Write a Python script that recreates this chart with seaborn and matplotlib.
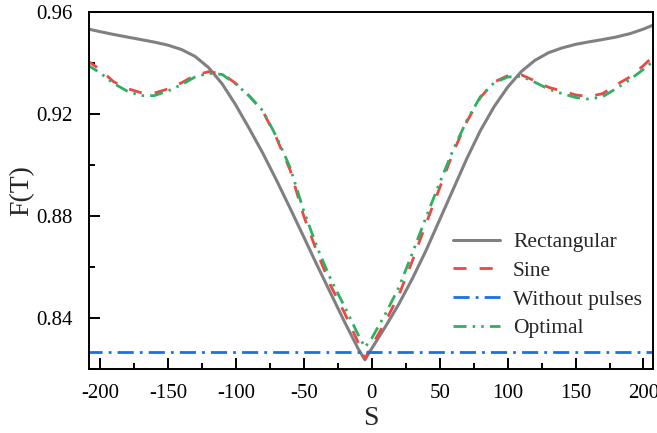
import numpy as np
import pandas as pd
import matplotlib
matplotlib.use("Agg")
import matplotlib.pyplot as plt
import seaborn as sns
from matplotlib.ticker import MultipleLocator

# values
S = [-210, -200, -190, -180, -170, -160, -150, -140, -130, -120, -110, -100,
     -90, -80, -70, -60, -50, -40, -30, -20, -10, -5, 0, 10, 20, 30, 40, 50,
     60, 70, 80, 90, 100, 110, 120, 130, 140, 150, 160, 170, 180, 190, 200, 210]

rectangular = [0.9535, 0.9523, 0.9512, 0.9502, 0.9492, 0.9482, 0.9470, 0.9453,
               0.9426, 0.9382, 0.9318, 0.9235, 0.9142, 0.9045, 0.8940, 0.8830,
               0.8718, 0.8605, 0.8495, 0.8385, 0.8280, 0.8236, 0.8280, 0.8365,
               0.8455, 0.8555, 0.8665, 0.8785, 0.8905, 0.9025, 0.9135, 0.9228,
               0.9305, 0.9366, 0.9410, 0.9440, 0.9459, 0.9473, 0.9483, 0.9492,
               0.9502, 0.9515, 0.9533, 0.9555]

sine = [0.9412, 0.9375, 0.9327, 0.9300, 0.9284, 0.9282, 0.9298, 0.9322,
        0.9352, 0.9366, 0.9358, 0.9320, 0.9270, 0.9210, 0.9105, 0.8980,
        0.8800, 0.8655, 0.8525, 0.8420, 0.8305, 0.8240, 0.8290, 0.8385,
        0.8490, 0.8625, 0.8770, 0.8910, 0.9050, 0.9170, 0.9265, 0.9325,
        0.9350, 0.9354, 0.9330, 0.9305, 0.9290, 0.9275, 0.9268, 0.9280,
        0.9315, 0.9345, 0.9390, 0.9440]

optimal = [0.9395, 0.9362, 0.9320, 0.9290, 0.9272, 0.9272, 0.9290, 0.9315,
           0.9345, 0.9360, 0.9355, 0.9318, 0.9270, 0.9212, 0.9110, 0.8990,
           0.8820, 0.8675, 0.8550, 0.8445, 0.8335, 0.8285, 0.8320, 0.8415,
           0.8520, 0.8655, 0.8795, 0.8930, 0.9060, 0.9175, 0.9268, 0.9322,
           0.9345, 0.9348, 0.9325, 0.9298, 0.9280, 0.9265, 0.9258, 0.9268,
           0.9300, 0.9335, 0.9375, 0.9420]

without_pulses = [0.8265] * len(S)

df = pd.DataFrame({"S": S, "Rectangular": rectangular, "Sine": sine,
                   "Without pulses": without_pulses, "Optimal": optimal})

sns.set_style("ticks")
plt.rcParams["font.family"] = ["Liberation Serif", "DejaVu Serif"]
plt.rcParams["axes.unicode_minus"] = False

fig = plt.figure(figsize=(6.57, 4.33), dpi=100)
ax = fig.add_axes([0.1355, 0.1478, 0.8584, 0.8245])

sns.lineplot(data=df, x="S", y="Rectangular", ax=ax, color="#808080", lw=2.2,
             label="Rectangular")
sns.lineplot(data=df, x="S", y="Sine", ax=ax, color="#f04545", lw=2.0,
             linestyle=(0, (4.7, 4.7)), label="Sine")
sns.lineplot(data=df, x="S", y="Without pulses", ax=ax, color="#1a70e6", lw=2.0,
             linestyle=(0, (5.8, 2.2, 1.0, 2.2)), label="Without pulses")
sns.lineplot(data=df, x="S", y="Optimal", ax=ax, color="#2eb062", lw=2.0,
             linestyle=(0, (4.7, 2.2, 0.9, 2.2, 0.9, 2.2)), label="Optimal")

ax.set_xlim(-208, 207)
ax.set_ylim(0.82, 0.96)
ax.xaxis.set_major_locator(MultipleLocator(50))
ax.xaxis.set_minor_locator(MultipleLocator(25))
ax.yaxis.set_minor_locator(MultipleLocator(0.02))
ax.set_yticks([0.84, 0.88, 0.92, 0.96])
ax.set_yticklabels(["0.84", "0.88", "0.92", "0.96"])

ax.tick_params(which="both", direction="in", width=1.4, colors="black",
               labelsize=15)
ax.tick_params(axis="x", pad=11)
ax.tick_params(axis="y", pad=12)
ax.tick_params(which="major", length=8)
ax.tick_params(which="minor", length=4.5)
for sp in ax.spines.values():
    sp.set_linewidth(1.4)
    sp.set_color("black")

ax.set_xlabel("S", fontsize=20, labelpad=2)
ax.set_ylabel("F(T)", fontsize=20, labelpad=1)

ax.legend(loc="upper left", bbox_to_anchor=(0.645, 0.383), frameon=False,
          fontsize=15.5, handlelength=2.2, handletextpad=0.6,
          labelspacing=0.4, borderpad=0, borderaxespad=0)

fig.savefig("out.png", dpi=100)
